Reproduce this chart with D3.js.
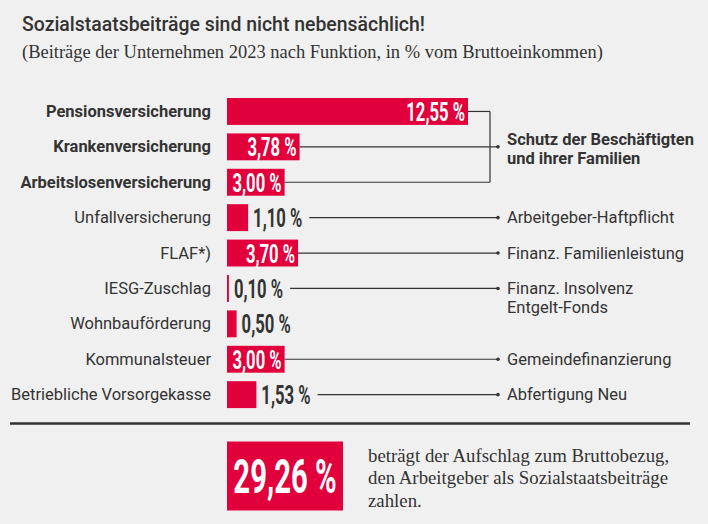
<!DOCTYPE html>
<html>
<head>
<meta charset="utf-8">
<script src="https://cdn.jsdelivr.net/npm/d3@7"></script>
<style>
  html, body { margin: 0; padding: 0; background: #f0f0f0; }
  svg { display: block; }
</style>
</head>
<body>
<svg id="chart" width="708" height="524"></svg>
<script>
// ---------- data ----------
const categories = [
  "Pensionsversicherung", "Krankenversicherung", "Arbeitslosenversicherung",
  "Unfallversicherung", "FLAF*)", "IESG-Zuschlag", "Wohnbauförderung",
  "Kommunalsteuer", "Betriebliche Vorsorgekasse"
];
const values = [12.55, 3.78, 3.00, 1.10, 3.70, 0.10, 0.50, 3.00, 1.53];
const boldCategories = ["Pensionsversicherung", "Krankenversicherung", "Arbeitslosenversicherung"];
const annotationTexts = [
  ["Schutz der Beschäftigten", "und ihrer Familien"],
  ["Arbeitgeber-Haftpflicht"],
  ["Finanz. Familienleistung"],
  ["Finanz. Insolvenz", "Entgelt-Fonds"],
  ["Gemeindefinanzierung"],
  ["Abfertigung Neu"]
];
const annotationRows = [
  ["Pensionsversicherung", "Krankenversicherung", "Arbeitslosenversicherung"],
  ["Unfallversicherung"],
  ["FLAF*)"],
  ["IESG-Zuschlag"],
  ["Kommunalsteuer"],
  ["Betriebliche Vorsorgekasse"]
];
const title = "Sozialstaatsbeiträge sind nicht nebensächlich!";
const subtitle = "(Beiträge der Unternehmen 2023 nach Funktion, in % vom Bruttoeinkommen)";
const footLines = ["beträgt der Aufschlag zum Bruttobezug,", "den Arbeitgeber als Sozialstaatsbeiträge", "zahlen."];

// ---------- style ----------
const RED = "#e2003c";
const DARK = "#333333";
const SANS = "Roboto, 'Noto Sans', sans-serif";
const SERIF = "'Liberation Serif', 'DejaVu Serif', serif";

const fmt = v => v.toFixed(2).replace(".", ",") + " %";

const svg = d3.select("#chart");

// horizontal scaling of a text element (mimics a condensed typeface)
function condense(sel, f) {
  sel.each(function () {
    const t = d3.select(this);
    const x0 = +t.attr("x");
    t.attr("x", x0 / f).attr("transform", `scale(${f},1)`);
  });
}
function fitTo(sel, target) {
  sel.each(function () {
    const w = this.getComputedTextLength();
    d3.select(this).call(condense, target / w);
  });
}

// ---------- titles ----------
svg.append("text")
  .attr("x", 22).attr("y", 31)
  .attr("font-family", SANS).attr("font-weight", 500).attr("font-size", 20.5)
  .attr("fill", DARK).text(title)
  .call(fitTo, 403);

svg.append("text")
  .attr("x", 22).attr("y", 58.5)
  .attr("font-family", SERIF).attr("font-size", 18.5)
  .attr("fill", DARK).text(subtitle)
  .call(fitTo, 581);

// ---------- scales ----------
const x = d3.scaleLinear().domain([0, d3.max(values)]).range([227, 468]);
const y = d3.scaleBand().domain(categories).range([93.75, 412.35])
  .paddingInner(0.24).paddingOuter(0.12);
const cy = c => y(c) + y.bandwidth() / 2;

const data = categories.map((c, i) => ({ c, v: values[i] }));

// ---------- category labels ----------
svg.append("g").selectAll("text").data(data).join("text")
  .attr("x", 211).attr("y", d => cy(d.c) + 5.5)
  .attr("text-anchor", "end")
  .attr("font-family", SANS).attr("font-size", 16)
  .attr("font-weight", d => boldCategories.includes(d.c) ? 700 : 400)
  .attr("fill", DARK)
  .text(d => d.c)
  .call(condense, 1.03);

// ---------- bars ----------
svg.append("g").selectAll("rect").data(data).join("rect")
  .attr("x", x(0)).attr("y", d => y(d.c))
  .attr("width", d => x(d.v) - x(0))
  .attr("height", y.bandwidth())
  .attr("fill", RED);

// ---------- value labels ----------
const VF = 0.64;
const labelEnd = {};
svg.append("g").selectAll("text").data(data).join("text")
  .attr("y", d => cy(d.c) + 9.5)
  .attr("font-family", SANS).attr("font-weight", 700).attr("font-size", 26)
  .text(d => fmt(d.v))
  .each(function (d) {
    const w = this.getComputedTextLength() * VF;
    const bw = x(d.v) - x(0);
    const t = d3.select(this);
    if (bw > w + 5) {
      t.attr("x", x(d.v) - 3).attr("text-anchor", "end").attr("fill", "#fff");
      labelEnd[d.c] = x(d.v);
    } else {
      t.attr("x", x(d.v) + 5).attr("text-anchor", "start").attr("fill", DARK);
      labelEnd[d.c] = x(d.v) + 5 + w + 7;
    }
  })
  .call(condense, VF);

// ---------- connectors & annotations ----------
const gA = svg.append("g");
const bracketX = 490, dotX = 498, textX = 507;
annotationRows.forEach((rows, i) => {
  const lines = annotationTexts[i];
  const isGroup = rows.length > 1;
  let anchorY;
  if (isGroup) {
    rows.forEach(r => {
      gA.append("line")
        .attr("x1", labelEnd[r]).attr("x2", bracketX)
        .attr("y1", cy(r)).attr("y2", cy(r))
        .attr("stroke", DARK).attr("stroke-width", 1.2);
    });
    gA.append("line")
      .attr("x1", bracketX).attr("x2", bracketX)
      .attr("y1", cy(rows[0])).attr("y2", cy(rows[rows.length - 1]))
      .attr("stroke", DARK).attr("stroke-width", 1.2);
    const mid = rows[Math.floor(rows.length / 2)];
    anchorY = cy(mid);
    gA.append("line")
      .attr("x1", bracketX).attr("x2", dotX)
      .attr("y1", anchorY).attr("y2", anchorY)
      .attr("stroke", DARK).attr("stroke-width", 1.2);
  } else {
    anchorY = cy(rows[0]);
    gA.append("line")
      .attr("x1", labelEnd[rows[0]]).attr("x2", dotX)
      .attr("y1", anchorY).attr("y2", anchorY)
      .attr("stroke", DARK).attr("stroke-width", 1.2);
  }
  gA.append("circle").attr("cx", dotX).attr("cy", anchorY).attr("r", 1.8).attr("fill", DARK);
  const firstBase = isGroup ? anchorY - 2 : anchorY + 5.5;
  lines.forEach((ln, j) => {
    gA.append("text")
      .attr("x", textX).attr("y", firstBase + j * 19.5)
      .attr("font-family", SANS).attr("font-size", 16)
      .attr("font-weight", isGroup ? 700 : 400)
      .attr("fill", DARK).text(ln)
      .call(condense, 1.03);
  });
});

// ---------- separator ----------
svg.append("line")
  .attr("x1", 10).attr("x2", 690).attr("y1", 423.5).attr("y2", 423.5)
  .attr("stroke", DARK).attr("stroke-width", 2.5);

// ---------- total box ----------
const total = d3.sum(values);
svg.append("rect")
  .attr("x", 227).attr("y", 441.5).attr("width", 116).attr("height", 69)
  .attr("fill", RED);
svg.append("text")
  .attr("x", 285).attr("y", 493)
  .attr("text-anchor", "middle")
  .attr("font-family", SANS).attr("font-weight", 700).attr("font-size", 48)
  .attr("fill", "#fff").text(fmt(total))
  .call(condense, 0.61);

svg.append("g").selectAll("text").data(footLines).join("text")
  .attr("x", 368).attr("y", (d, i) => 462 + i * 22.5)
  .attr("font-family", SERIF).attr("font-size", 19)
  .attr("fill", DARK).text(d => d)
  .call(condense, 0.99);
</script>
</body>
</html>
